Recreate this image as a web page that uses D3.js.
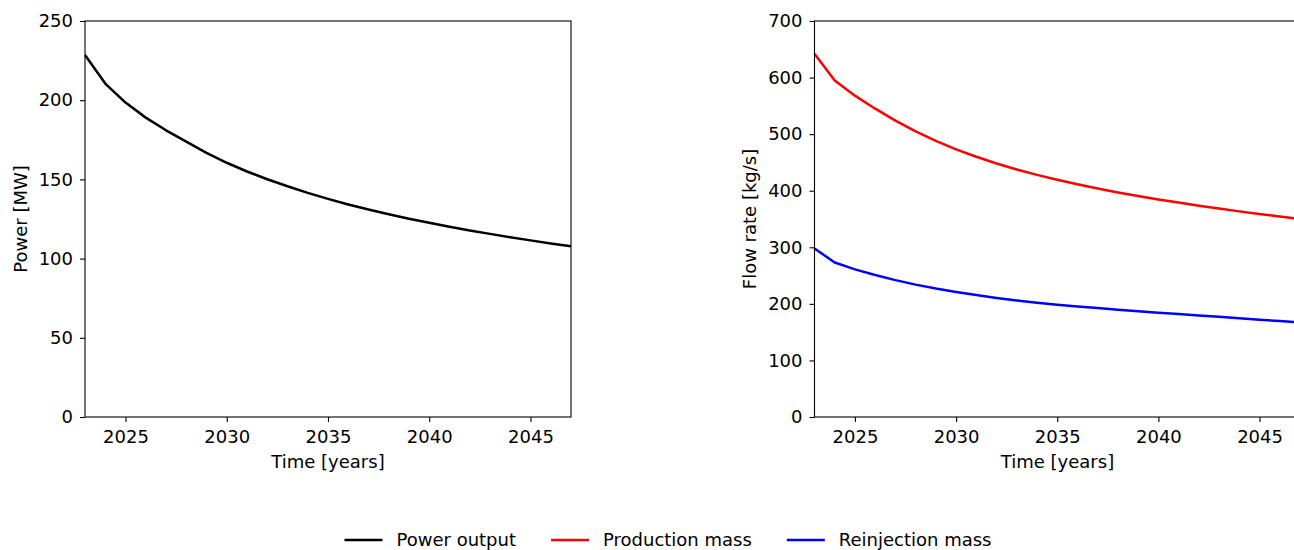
<!DOCTYPE html>
<html>
<head>
<meta charset="utf-8">
<script src="https://cdn.jsdelivr.net/npm/d3@7"></script>
<style>
  body { margin: 0; background: #fff; }
  svg { display: block; font-family: "DejaVu Sans", sans-serif; }
</style>
</head>
<body>
<div id="chart"></div>
<script>
// yearly values
const years = d3.range(2023, 2048);
const powerOutput = [228.5, 210.5, 198.5, 189, 181, 173.8, 166.8, 160.5, 155, 150.1, 145.7, 141.5, 137.7,
  134.2, 131, 128, 125.2, 122.6, 120.1, 117.8, 115.6, 113.5, 111.5, 109.6, 107.8];
const productionMass = [642, 595, 568, 545, 524, 505, 488, 473, 460, 448, 437.5, 428, 419.5,
  411.5, 404, 397, 390.5, 384.5, 379, 373.5, 368.5, 363.5, 359, 354.5, 350];
const reinjectionMass = [298, 273, 261, 251, 242, 234, 227, 221, 215.5, 210.5, 206, 202, 198.3,
  195.3, 192.5, 189.6, 187, 184.4, 182, 179.5, 177, 174.5, 172, 169.6, 167.2];
const xTicks = [2025, 2030, 2035, 2040, 2045];
const powerTicks = [0, 50, 100, 150, 200, 250];
const flowTicks = [0, 100, 200, 300, 400, 500, 600, 700];

const W = 1294, H = 550;
const fs = 18;

const svg = d3.select('#chart').append('svg')
  .attr('width', W)
  .attr('height', H);

function panel(x0, x1, yMax, yTicks, yLabel, series) {
  const top = 21, bottom = 417;
  const x = d3.scaleLinear().domain([2023, 2047]).range([x0, x1]);
  const y = d3.scaleLinear().domain([0, yMax]).range([bottom, top]);
  const g = svg.append('g');

  // lines
  series.forEach((s) => {
    g.append('path')
      .datum(years.map((yr, i) => [yr, s.values[i]]))
      .attr('fill', 'none')
      .attr('stroke', s.color)
      .attr('stroke-width', 2.5)
      .attr('stroke-linejoin', 'round')
      .attr('d', d3.line().x(d => x(d[0])).y(d => y(d[1])));
  });

  // frame
  g.append('rect')
    .attr('x', x0).attr('y', top)
    .attr('width', x1 - x0).attr('height', bottom - top)
    .attr('fill', 'none').attr('stroke', '#000').attr('stroke-width', 1.1);

  const xa = g.append('g').attr('transform', `translate(0,${bottom})`)
    .call(d3.axisBottom(x).tickValues(xTicks).tickFormat(d3.format('d')).tickSize(5).tickPadding(8.5));
  const ya = g.append('g').attr('transform', `translate(${x0},0)`)
    .call(d3.axisLeft(y).tickValues(yTicks).tickSize(5).tickPadding(7));
  [xa, ya].forEach((a) => {
    a.select('.domain').remove();
    a.selectAll('line').attr('stroke', '#000').attr('stroke-width', 1.1);
    a.selectAll('text').attr('font-size', fs).attr('fill', '#000').style('font-family', 'DejaVu Sans');
  });

  g.append('text')
    .attr('x', x0 + 243)
    .attr('y', 468)
    .attr('text-anchor', 'middle')
    .attr('font-size', fs)
    .text('Time [years]');

  g.append('text')
    .attr('transform', `translate(${x0 - 64.5},${(top + bottom) / 2}) rotate(-90)`)
    .attr('text-anchor', 'middle')
    .attr('dy', '0.35em')
    .attr('font-size', fs)
    .text(yLabel);
}

panel(85, 571, 250, powerTicks, 'Power [MW]', [
  { values: powerOutput, color: '#000' }
]);
panel(814.5, 1300, 700, flowTicks, 'Flow rate [kg/s]', [
  { values: productionMass, color: '#ff0000' },
  { values: reinjectionMass, color: '#0000ff' }
]);

// legend, centred under both panels
const legendItems = [
  { label: 'Power output', color: '#000' },
  { label: 'Production mass', color: '#ff0000' },
  { label: 'Reinjection mass', color: '#0000ff' }
];
const leg = svg.append('g');
let cx = 0;
legendItems.forEach((d) => {
  leg.append('line')
    .attr('x1', cx).attr('x2', cx + 38)
    .attr('y1', 540).attr('y2', 540)
    .attr('stroke', d.color).attr('stroke-width', 2.5);
  const t = leg.append('text')
    .attr('x', cx + 52).attr('y', 540).attr('dy', '0.35em')
    .attr('font-size', fs)
    .text(d.label);
  cx += 52 + t.node().getComputedTextLength() + 35;
});
const legW = cx - 35;
leg.attr('transform', `translate(${668 - legW / 2},0)`);
</script>
</body>
</html>
